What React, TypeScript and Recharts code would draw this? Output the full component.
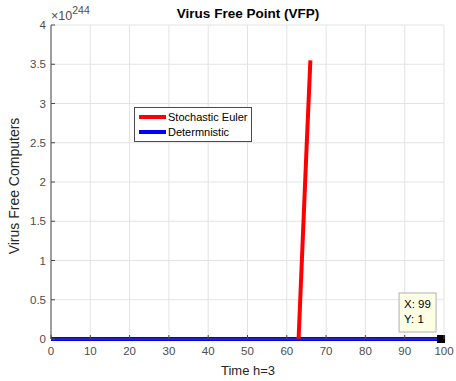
import React from "react";
import {
  LineChart,
  Line,
  XAxis,
  YAxis,
  CartesianGrid,
  ReferenceDot,
} from "recharts";

// values in units of 10^244
const EXPONENT = 244;
const xTicks = [0, 10, 20, 30, 40, 50, 60, 70, 80, 90, 100];
const yTicks = [0, 0.5, 1, 1.5, 2, 2.5, 3, 3.5, 4];

const stochasticT = [63, 64, 65, 66];
const stochasticV = [0, 1.2, 2.4, 3.55];

const deterministicT = [0, 99];
const deterministicV = [1e-244, 1e-244];

const seriesNames = ["Stochastic Euler", "Determnistic"];

const tipX = 99;
const tipY = 1;

const stochasticData = stochasticT.map((t, i) => ({ t, v: stochasticV[i] }));
const deterministicData = deterministicT.map((t, i) => ({ t, v: deterministicV[i] }));

const FONT = "'Liberation Sans', Arial, Helvetica, sans-serif";
const AXIS = "#4a4a4a";
const TXT = "#4d4d4d";

const LeftTick = (props: any) => {
  const { x, y, payload } = props;
  const ax = x + 5;
  return (
    <g>
      <line x1={ax} y1={y} x2={ax + 4} y2={y} stroke={AXIS} strokeWidth={1} />
      <text x={x} y={y} dy="0.35em" textAnchor="end" fontSize={11.5} fill={TXT} fontFamily={FONT}>
        {payload.value}
      </text>
    </g>
  );
};

const RightTick = (props: any) => {
  const { x, y } = props;
  return <line x1={x} y1={y} x2={x - 4} y2={y} stroke={AXIS} strokeWidth={1} />;
};

const BottomTick = (props: any) => {
  const { x, y, payload } = props;
  const ay = y - 8;
  return (
    <g>
      <line x1={x} y1={ay} x2={x} y2={ay - 4} stroke={AXIS} strokeWidth={1} />
      <text x={x} y={y} dy="0.71em" textAnchor="middle" fontSize={11.5} fill={TXT} fontFamily={FONT}>
        {payload.value}
      </text>
    </g>
  );
};

const TopTick = (props: any) => {
  const { x, y } = props;
  return <line x1={x} y1={y} x2={x} y2={y + 4} stroke={AXIS} strokeWidth={1} />;
};

const LegendBox = () => (
  <svg width={119} height={36} style={{ position: "absolute", left: 134, top: 107, display: "block" }}>
    <rect x={0.5} y={0.5} width={117} height={34} fill="#ffffff" stroke="#4a4a4a" strokeWidth={1} />
    <line x1={5} y1={10} x2={32} y2={10} stroke="#ff0000" strokeWidth={4} />
    <text x={34} y={10} dy="0.35em" fontSize={11} fill="#000" fontFamily={FONT}>
      {seriesNames[0]}
    </text>
    <line x1={5} y1={25} x2={32} y2={25} stroke="#0000ff" strokeWidth={4} />
    <text x={34} y={25} dy="0.35em" fontSize={11} fill="#000" fontFamily={FONT}>
      {seriesNames[1]}
    </text>
  </svg>
);

const DataTip = (props: any) => {
  const { cx, cy } = props;
  return (
    <g>
      <rect x={cx - 41} y={cy - 46} width={37} height={39} fill="#ffffe6" stroke="#b0b0b0" strokeWidth={1} />
      <text x={cx - 36} y={cy - 31} fontSize={11.5} fill="#000" fontFamily={FONT}>
        {`X: ${tipX}`}
      </text>
      <text x={cx - 36} y={cy - 16} fontSize={11.5} fill="#000" fontFamily={FONT}>
        {`Y: ${tipY}`}
      </text>
      <rect x={cx - 3} y={cy - 4} width={8} height={8} fill="#000" />
    </g>
  );
};

export default function App() {
  return (
    <div style={{ position: "absolute", left: 0, top: 0, width: 456, height: 381, background: "#fff" }}>
      <LineChart
        width={456}
        height={381}
        margin={{ top: 25, right: 12, left: 0, bottom: 0 }}
        style={{ fontFamily: FONT }}
      >
        <CartesianGrid
          stroke="#e3e3e3"
          strokeWidth={1}
          horizontalValues={yTicks}
          verticalValues={xTicks}
          yAxisId="l"
          xAxisId="b"
        />
        <XAxis
          xAxisId="b"
          dataKey="t"
          type="number"
          domain={[0, 100]}
          ticks={xTicks}
          interval={0}
          height={42}
          tickSize={0}
          tickMargin={8}
          tick={<BottomTick />}
          axisLine={{ stroke: AXIS }}
          allowDuplicatedCategory={false}
        />
        <XAxis
          xAxisId="t"
          orientation="top"
          dataKey="t"
          type="number"
          domain={[0, 100]}
          ticks={xTicks}
          interval={0}
          height={0}
          tickSize={0}
          tickMargin={0}
          tick={<TopTick />}
          axisLine={{ stroke: AXIS }}
        />
        <YAxis
          yAxisId="l"
          type="number"
          domain={[0, 4]}
          ticks={yTicks}
          interval={0}
          width={51}
          tickSize={0}
          tickMargin={5}
          tick={<LeftTick />}
          axisLine={{ stroke: AXIS }}
        />
        <YAxis
          yAxisId="r"
          orientation="right"
          type="number"
          domain={[0, 4]}
          ticks={yTicks}
          interval={0}
          width={0}
          tickSize={0}
          tickMargin={0}
          tick={<RightTick />}
          axisLine={{ stroke: AXIS }}
        />
        <Line
          xAxisId="b"
          yAxisId="l"
          data={deterministicData}
          dataKey="v"
          name={seriesNames[1]}
          stroke="#0000ff"
          strokeWidth={4}
          dot={false}
          isAnimationActive={false}
        />
        <Line
          xAxisId="b"
          yAxisId="l"
          data={stochasticData}
          dataKey="v"
          name={seriesNames[0]}
          stroke="#ff0000"
          strokeWidth={4}
          dot={false}
          isAnimationActive={false}
        />
        <ReferenceDot
          xAxisId="b"
          yAxisId="l"
          x={tipX}
          y={tipY / Math.pow(10, EXPONENT)}
          r={4}
          shape={<DataTip />}
        />
        <text x={248} y={18} textAnchor="middle" fontSize={13.5} fontWeight="bold" fill="#000" fontFamily={FONT}>
          Virus Free Point (VFP)
        </text>
        <text x={248} y={375} textAnchor="middle" fontSize={13} fill="#262626" fontFamily={FONT}>
          Time h=3
        </text>
        <text
          x={0}
          y={0}
          transform="translate(19,186) rotate(-90)"
          textAnchor="middle"
          fontSize={14}
          fill="#262626"
          fontFamily={FONT}
        >
          Virus Free Computers
        </text>
        <text x={51} y={20} fontSize={12.5} fill={TXT} fontFamily={FONT}>
          {"\u00d710"}
          <tspan dy={-6} fontSize={10.5}>
            {String(EXPONENT)}
          </tspan>
        </text>
      </LineChart>
      <LegendBox />
    </div>
  );
}
